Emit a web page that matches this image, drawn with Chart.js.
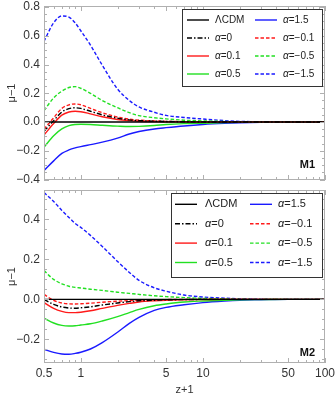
<!DOCTYPE html>
<html>
<head>
<meta charset="utf-8">
<script src="https://cdn.jsdelivr.net/npm/chart.js@4.4.0/dist/chart.umd.min.js"></script>
<style>
  html, body { margin: 0; padding: 0; background: #fff; }
  #wrap { position: relative; width: 336px; height: 398px; overflow: hidden; }
  canvas { position: absolute; left: 0; }
  #topChart { top: 0; }
  #bottomChart { top: 186px; }
</style>
</head>
<body>
<div id="wrap">
  <canvas id="topChart" width="336" height="186"></canvas>
  <canvas id="bottomChart" width="336" height="212"></canvas>
</div>
<script>
// x values (z+1)
const zPlus1 = [0.5, 0.6, 0.7, 0.8, 0.9, 1, 1.2, 1.5, 2, 2.5, 3, 4, 5, 7, 10, 15, 20, 30, 50, 100];

const seriesLabels = ['ΛCDM', 'α=0', 'α=0.1', 'α=0.5', 'α=1.5', 'α=−0.1', 'α=−0.5', 'α=−1.5'];

// M1 panel
const m1Lcdm = [0, 0, 0, 0, 0, 0, 0, 0, 0, 0, 0, 0, 0, 0, 0, 0, 0, 0, 0, 0];
const m1A0   = [-0.065, 0.01, 0.07, 0.093, 0.099, 0.095, 0.075, 0.05, 0.027, 0.015, 0.01, 0.006, 0.004, 0.002, 0.001, 0, 0, 0, 0, 0];
const m1A01  = [-0.09, -0.01, 0.048, 0.07, 0.075, 0.072, 0.057, 0.037, 0.018, 0.01, 0.006, 0.003, 0.002, 0.001, 0, 0, 0, 0, 0, 0];
const m1A05  = [-0.175, -0.095, -0.048, -0.025, -0.017, -0.015, -0.017, -0.022, -0.028, -0.031, -0.03, -0.024, -0.017, -0.011, -0.008, -0.004, -0.002, -0.001, 0, 0];
const m1A15  = [-0.337, -0.27, -0.218, -0.194, -0.18, -0.171, -0.157, -0.14, -0.112, -0.083, -0.066, -0.048, -0.039, -0.027, -0.017, -0.009, -0.005, -0.002, 0, 0];
const m1Am01 = [-0.05, 0.03, 0.095, 0.12, 0.126, 0.12, 0.095, 0.065, 0.035, 0.02, 0.013, 0.008, 0.005, 0.003, 0.001, 0, 0, 0, 0, 0];
const m1Am05 = [0.08, 0.168, 0.215, 0.24, 0.246, 0.235, 0.2, 0.15, 0.1, 0.065, 0.045, 0.03, 0.022, 0.013, 0.008, 0.004, 0.002, 0.001, 0, 0];
const m1Am15 = [0.562, 0.69, 0.738, 0.73, 0.69, 0.635, 0.535, 0.395, 0.23, 0.15, 0.105, 0.068, 0.046, 0.032, 0.021, 0.01, 0.005, 0.002, 0.0005, 0];

// M2 panel
const m2Lcdm = [0, 0, 0, 0, 0, 0, 0, 0, 0, 0, 0, 0, 0, 0, 0, 0, 0, 0, 0, 0];
const m2A0   = [0, -0.025, -0.038, -0.043, -0.044, -0.042, -0.037, -0.028, -0.018, -0.011, -0.007, -0.004, -0.002, -0.001, 0, 0, 0, 0, 0, 0];
const m2A01  = [-0.016, -0.045, -0.06, -0.066, -0.066, -0.064, -0.057, -0.045, -0.03, -0.02, -0.013, -0.007, -0.004, -0.002, -0.001, 0, 0, 0, 0, 0];
const m2A05  = [-0.094, -0.118, -0.13, -0.133, -0.132, -0.128, -0.122, -0.108, -0.086, -0.066, -0.05, -0.032, -0.023, -0.013, -0.008, -0.004, -0.002, -0.001, 0, 0];
const m2A15  = [-0.249, -0.265, -0.273, -0.274, -0.27, -0.264, -0.248, -0.216, -0.164, -0.12, -0.09, -0.055, -0.04, -0.027, -0.016, -0.008, -0.004, -0.002, 0, 0];
const m2Am01 = [0.025, -0.005, -0.018, -0.022, -0.023, -0.022, -0.019, -0.014, -0.009, -0.006, -0.004, -0.002, -0.001, 0, 0, 0, 0, 0, 0, 0];
const m2Am05 = [0.144, 0.1, 0.078, 0.066, 0.06, 0.057, 0.051, 0.045, 0.036, 0.03, 0.025, 0.018, 0.014, 0.009, 0.005, 0.003, 0.001, 0, 0, 0];
const m2Am15 = [0.534, 0.49, 0.445, 0.41, 0.38, 0.36, 0.32, 0.265, 0.19, 0.135, 0.095, 0.058, 0.041, 0.022, 0.012, 0.006, 0.003, 0.001, 0, 0];

// tick labels
const xTickValues = [0.5, 1, 5, 10, 50, 100];
const m1YTicks = [-0.4, -0.2, 0, 0.2, 0.4, 0.6, 0.8];
const m2YTicks = [-0.2, 0, 0.2, 0.4];

const FONT = '"Liberation Sans", Arial, sans-serif';
const RED = '#ff1a1a', GREEN = '#22e022', BLUE = '#1a1aff';
const styles = [
    { color: '#000', dash: [] },
    { color: '#000', dash: [5, 2, 1.5, 2] },
    { color: RED, dash: [] },
    { color: GREEN, dash: [] },
    { color: BLUE, dash: [] },
    { color: RED, dash: [3.5, 2] },
    { color: GREEN, dash: [3.5, 2] },
    { color: BLUE, dash: [3.5, 2] }
];

function fmtY(v) {
    if (Math.abs(v) < 1e-9) v = 0;
    return v.toFixed(1).replace('-', '\u2212');
}

function makeDatasets(seriesList) {
    return seriesList.map((vals, i) => ({
        label: seriesLabels[i],
        data: zPlus1.map((x, j) => ({ x: x, y: vals[j] })),
        borderColor: styles[i].color,
        borderDash: styles[i].dash,
        borderWidth: 1.4,
        pointRadius: 0,
        fill: false,
        cubicInterpolationMode: 'monotone'
    }));
}

// frame with inward ticks on all four sides
const frameTicks = {
    id: 'frameTicks',
    afterDatasetsDraw(chart, args, opts) {
        const { ctx, chartArea: a, scales: { x, y } } = chart;
        ctx.save();
        ctx.strokeStyle = '#b0b0b0';
        ctx.lineWidth = 1;
        ctx.strokeRect(a.left + 0.5, a.top + 0.5, a.width - 1, a.height - 1);
        ctx.beginPath();
        for (let d = -1; d <= 2; d++) {
            for (let m = 1; m <= 9; m++) {
                const v = m * Math.pow(10, d);
                if (v < 0.5 - 1e-9 || v > 100 + 1e-9) continue;
                const px = Math.round(x.getPixelForValue(v)) + 0.5;
                const major = xTickValues.some(t => Math.abs(t - v) < 1e-9);
                const len = major ? 5 : 3;
                ctx.moveTo(px, a.bottom); ctx.lineTo(px, a.bottom - len);
                ctx.moveTo(px, a.top); ctx.lineTo(px, a.top + len);
            }
        }
        const majors = opts.yTicks;
        for (let v = Math.ceil(y.min / 0.05) * 0.05; v <= y.max + 1e-9; v += 0.05) {
            const py = Math.round(y.getPixelForValue(v)) + 0.5;
            const major = majors.some(t => Math.abs(t - v) < 1e-6);
            const len = major ? 5 : 3;
            ctx.moveTo(a.left, py); ctx.lineTo(a.left + len, py);
            ctx.moveTo(a.right, py); ctx.lineTo(a.right - len, py);
        }
        ctx.stroke();
        ctx.restore();
    }
};

// legend box drawn inside the plot
const boxLegend = {
    id: 'boxLegend',
    afterDraw(chart, args, o) {
        const ctx = chart.ctx;
        ctx.save();
        ctx.fillStyle = '#fff';
        ctx.fillRect(o.box[0], o.box[1], o.box[2], o.box[3]);
        ctx.strokeStyle = '#333';
        ctx.lineWidth = 1;
        ctx.strokeRect(o.box[0] + 0.5, o.box[1] + 0.5, o.box[2], o.box[3]);
        chart.data.datasets.forEach((ds, i) => {
            const col = Math.floor(i / 4), row = i % 4;
            const yy = o.rowY + row * o.rowGap;
            const sx = o.sampleX[col];
            ctx.strokeStyle = ds.borderColor;
            ctx.setLineDash(ds.borderDash);
            ctx.lineWidth = 1.4;
            ctx.beginPath();
            ctx.moveTo(sx, yy); ctx.lineTo(sx + 22, yy);
            ctx.stroke();
            ctx.setLineDash([]);
            ctx.fillStyle = '#222';
            ctx.textBaseline = 'middle';
            let tx = o.textX[col];
            let text = ds.label;
            if (text.startsWith('α')) {
                ctx.font = 'italic ' + o.fontSize + 'px ' + FONT;
                ctx.fillText('α', tx, yy);
                tx += ctx.measureText('α').width;
                text = text.slice(1);
            }
            ctx.font = o.fontSize + 'px ' + FONT;
            ctx.fillText(text, tx, yy);
        });
        ctx.font = 'bold 11px ' + FONT;
        ctx.textAlign = 'right';
        ctx.fillStyle = '#111';
        ctx.fillText(o.tag, o.tagPos[0], o.tagPos[1]);
        ctx.restore();
    }
};

function makeChart(id, seriesList, yMin, yMax, yTicks, isBottom, legendOpts) {
    return new Chart(document.getElementById(id), {
        type: 'line',
        data: { datasets: makeDatasets(seriesList) },
        plugins: [frameTicks, boxLegend],
        options: {
            responsive: false,
            animation: false,
            layout: { padding: { top: isBottom ? 4 : 6, right: 11, left: 0, bottom: 0 } },
            plugins: {
                legend: { display: false },
                tooltip: { enabled: false },
                frameTicks: { yTicks: yTicks },
                boxLegend: legendOpts
            },
            scales: {
                x: {
                    type: 'logarithmic',
                    min: 0.5,
                    max: 100,
                    grid: { display: false, drawTicks: false },
                    border: { display: false },
                    afterBuildTicks: s => { s.ticks = xTickValues.map(v => ({ value: v })); },
                    ticks: {
                        display: isBottom,
                        autoSkip: false,
                        maxRotation: 0,
                        padding: 3,
                        color: '#333',
                        font: { size: 12, family: FONT },
                        callback: v => String(v)
                    },
                    title: {
                        display: isBottom,
                        text: 'z+1',
                        color: '#333',
                        font: { size: 11, family: FONT },
                        padding: { top: 0, bottom: 1 }
                    },
                    afterFit: s => { s.height = isBottom ? 35 : 6; s.paddingLeft = 0; s.paddingRight = 0; }
                },
                y: {
                    min: yMin,
                    max: yMax,
                    grid: { display: false, drawTicks: false },
                    border: { display: false },
                    afterBuildTicks: s => { s.ticks = yTicks.map(v => ({ value: v })); },
                    ticks: {
                        padding: 4,
                        color: '#333',
                        font: { size: 12, family: FONT },
                        callback: v => fmtY(v)
                    },
                    title: {
                        display: true,
                        text: 'μ\u22121',
                        color: '#333',
                        font: { size: 11, family: FONT },
                        padding: { top: 5, bottom: 0 }
                    },
                    afterFit: s => { s.width = 44; s.paddingTop = 0; s.paddingBottom = 0; }
                }
            }
        }
    });
}

makeChart('topChart',
    [m1Lcdm, m1A0, m1A01, m1A05, m1A15, m1Am01, m1Am05, m1Am15],
    -0.403, 0.807, m1YTicks, false,
    { box: [182, 9, 140, 77], sampleX: [187, 255], textX: [215, 283], rowY: 20, rowGap: 18, fontSize: 10, tag: 'M1', tagPos: [315, 165] });

makeChart('bottomChart',
    [m2Lcdm, m2A0, m2A01, m2A05, m2A15, m2Am01, m2Am05, m2Am15],
    -0.318, 0.547, m2YTicks, true,
    { box: [171, 7, 151, 84], sampleX: [175, 250], textX: [205, 278], rowY: 18.3, rowGap: 19.4, fontSize: 11, tag: 'M2', tagPos: [315, 167] });
</script>
</body>
</html>
